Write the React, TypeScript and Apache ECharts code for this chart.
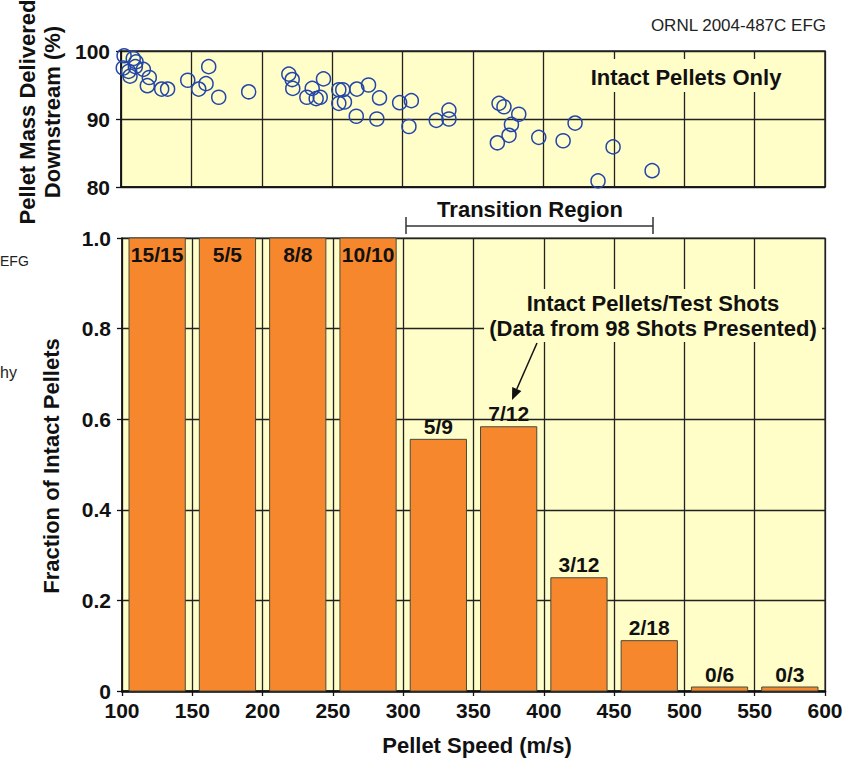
import React, { useEffect, useRef } from "react";
import * as echarts from "echarts";

// ---- Data ----
const speedTicks = [100, 150, 200, 250, 300, 350, 400, 450, 500, 550, 600];
const binCenters = [125, 175, 225, 275, 325, 375, 425, 475, 525, 575];
const intactCounts = [15, 5, 8, 10, 5, 7, 3, 2, 0, 0];
const shotCounts = [15, 5, 8, 10, 9, 12, 12, 18, 6, 3];
const fractionTicks = [0, 0.2, 0.4, 0.6, 0.8, 1.0];
const massTicks = [80, 90, 100];

const scatterSpeed = [
  102.2, 101.6, 105.4, 106.4, 108.7, 110.7, 110.2, 115.9, 120.1, 118.7, 128.9, 133.1,
  147.4, 155.2, 160.4, 162.3, 169.4, 190.7,
  219.2, 221.6, 222.0, 232.0, 235.8, 238.6, 241.5, 243.8, 254.7, 257.5, 254.7, 258.7,
  267.5, 275.8, 267.1, 283.6, 281.7, 297.9, 306.2, 304.5, 323.9, 332.9, 332.9,
  368.5, 372.0, 382.5, 377.3, 375.6, 367.3, 396.7, 414.0, 422.5, 449.5, 438.8, 477.2,
];
const scatterMass = [
  99.3, 97.5, 97.0, 96.3, 98.9, 98.4, 97.7, 97.3, 96.1, 94.9, 94.4, 94.4,
  95.7, 94.4, 95.2, 97.7, 93.2, 94.0,
  96.6, 95.8, 94.5, 93.2, 94.5, 93.0, 93.2, 95.9, 94.3, 94.3, 92.3, 92.5,
  94.4, 95.0, 90.4, 93.1, 90.0, 92.4, 92.7, 88.9, 89.8, 91.3, 90.0,
  92.3, 91.8, 90.7, 89.2, 87.6, 86.5, 87.3, 86.8, 89.4, 85.9, 80.9, 82.4,
];

const FONT = "'Liberation Sans', Arial, Helvetica, sans-serif";
const BG = "#FFFDC8";
const BAR = "#F7872C";
const GRIDLINE = "#222";

export default function App() {
  const ref = useRef<HTMLDivElement>(null);
  useEffect(() => {
    if (!ref.current) return;
    const chart = echarts.init(ref.current, null, { renderer: "svg" });
    const barData = binCenters.map((c, i) => [c, intactCounts[i] / shotCounts[i], i]);
    const scatterData = scatterSpeed.map((s, i) => [s, scatterMass[i]]);
    const tickFont = { fontFamily: FONT, fontWeight: "bold" as const, fontSize: 21, color: "#111" };
    const T = `bold 22px ${FONT}`;

    const option: any = {
      animation: false,
      backgroundColor: "#fff",
      grid: [
        { left: 121, right: 29, top: 51, height: 136, show: true, backgroundColor: BG, borderColor: "#222", borderWidth: 1.5 },
        { left: 122, right: 29, top: 238, bottom: 67, show: true, backgroundColor: BG, borderColor: "#333", borderWidth: 1.2 },
      ],
      xAxis: [
        {
          gridIndex: 0, type: "value", min: speedTicks[0], max: speedTicks[speedTicks.length - 1], interval: 50,
          axisLabel: { show: false }, axisTick: { show: false },
          axisLine: { show: true, lineStyle: { color: "#111", width: 1.5 } },
          splitLine: { show: true, lineStyle: { color: GRIDLINE, width: 1.3 } },
        },
        {
          gridIndex: 1, type: "value", min: speedTicks[0], max: speedTicks[speedTicks.length - 1], interval: 50,
          axisLabel: { ...tickFont, margin: 9 },
          axisTick: { show: true, length: 5, lineStyle: { color: "#111", width: 1.3 } },
          axisLine: { show: true, lineStyle: { color: "#111", width: 2.5 } },
          splitLine: { show: true, lineStyle: { color: GRIDLINE, width: 1.3 } },
        },
      ],
      yAxis: [
        {
          gridIndex: 0, type: "value", min: massTicks[0], max: massTicks[massTicks.length - 1], interval: 10,
          axisLabel: { ...tickFont, margin: 11 },
          axisTick: { show: true, length: 5, lineStyle: { color: "#111", width: 1.3 } },
          axisLine: { show: true, lineStyle: { color: "#111", width: 1.5 } },
          splitLine: { show: true, lineStyle: { color: GRIDLINE, width: 1.3 } },
        },
        {
          gridIndex: 1, type: "value", min: fractionTicks[0], max: fractionTicks[fractionTicks.length - 1], interval: 0.2,
          axisLabel: { ...tickFont, margin: 11, formatter: (v: number) => (v === 0 ? "0" : v.toFixed(1)) },
          axisTick: { show: true, length: 5, lineStyle: { color: "#111", width: 1.3 } },
          axisLine: { show: true, lineStyle: { color: "#111", width: 1.5 } },
          splitLine: { show: true, lineStyle: { color: GRIDLINE, width: 1.3 } },
        },
      ],
      series: [
        {
          type: "scatter", xAxisIndex: 0, yAxisIndex: 0, data: scatterData,
          symbol: "circle", symbolSize: 14, z: 5,
          itemStyle: { color: "rgba(0,0,0,0)", borderColor: "#2346A8", borderWidth: 1.5, opacity: 1 },
        },
        {
          type: "custom", xAxisIndex: 1, yAxisIndex: 1, data: barData, z: 3,
          encode: { x: 0, y: 1 },
          renderItem: (params: any, api: any) => {
            const x = api.value(0);
            const v = api.value(1);
            const i = params.dataIndex;
            const p0 = api.coord([x - 20, 0]);
            const p1 = api.coord([x + 20, v]);
            let h = p0[1] - p1[1];
            if (h < 4) h = 4;
            const top = p0[1] - h;
            const full = v >= 0.999;
            const label = `${intactCounts[i]}/${shotCounts[i]}`;
            return {
              type: "group",
              children: [
                {
                  type: "rect",
                  shape: { x: p0[0], y: top, width: p1[0] - p0[0], height: h },
                  style: { fill: BAR, stroke: "#4a4a3a", lineWidth: 1 },
                },
                {
                  type: "text",
                  x: (p0[0] + p1[0]) / 2,
                  y: full ? top + 16 : top - 13,
                  style: {
                    text: label, fill: "#111", font: `bold 21px ${FONT}`,
                    align: "center", verticalAlign: "middle",
                  },
                },
              ],
            };
          },
        },
      ],
      graphic: [
        { type: "text", x: 826, y: 25, style: { text: "ORNL 2004-487C EFG", fill: "#222", font: `17px ${FONT}`, align: "right", verticalAlign: "middle" } },
        { type: "text", x: 0, y: 261, style: { text: "EFG", fill: "#222", font: `14px ${FONT}`, align: "left", verticalAlign: "middle" } },
        { type: "text", x: 0, y: 372, style: { text: "hy", fill: "#222", font: `16px ${FONT}`, align: "left", verticalAlign: "middle" } },
        {
          type: "text", x: 40, y: 112, rotation: Math.PI / 2,
          style: { text: "Pellet Mass Delivered\nDownstream (%)", fill: "#111", font: T, align: "center", verticalAlign: "middle", lineHeight: 25 },
        },
        {
          type: "text", x: 51, y: 466, rotation: Math.PI / 2,
          style: { text: "Fraction of Intact Pellets", fill: "#111", font: T, align: "center", verticalAlign: "middle" },
        },
        { type: "text", x: 477, y: 745, style: { text: "Pellet Speed (m/s)", fill: "#111", font: T, align: "center", verticalAlign: "middle" } },
        { type: "text", x: 530, y: 209, style: { text: "Transition Region", fill: "#111", font: T, align: "center", verticalAlign: "middle" } },
        { type: "line", shape: { x1: 406, y1: 226, x2: 653, y2: 226 }, style: { stroke: "#333", lineWidth: 1.5 } },
        { type: "line", shape: { x1: 406, y1: 217, x2: 406, y2: 234 }, style: { stroke: "#333", lineWidth: 1.5 } },
        { type: "line", shape: { x1: 653, y1: 217, x2: 653, y2: 234 }, style: { stroke: "#333", lineWidth: 1.5 } },
        // top annotation
        { type: "rect", z: 10, shape: { x: 586, y: 59, width: 200, height: 33 }, style: { fill: BG } },
        { type: "text", z: 11, x: 686, y: 77, style: { text: "Intact Pellets Only", fill: "#111", font: T, align: "center", verticalAlign: "middle" } },
        // bottom annotation
        { type: "rect", z: 10, shape: { x: 484, y: 289, width: 338, height: 53 }, style: { fill: BG } },
        { type: "text", z: 11, x: 653, y: 303, style: { text: "Intact Pellets/Test Shots", fill: "#111", font: T, align: "center", verticalAlign: "middle" } },
        { type: "text", z: 11, x: 653, y: 328, style: { text: "(Data from 98 Shots Presented)", fill: "#111", font: T, align: "center", verticalAlign: "middle" } },
        { type: "line", z: 11, shape: { x1: 537, y1: 343, x2: 516.8, y2: 389 }, style: { stroke: "#111", lineWidth: 1.5 } },
        { type: "polygon", z: 11, shape: { points: [[512, 400], [521.4, 391], [512.2, 387]] }, style: { fill: "#111" } },
      ],
    };
    chart.setOption(option);
    return () => chart.dispose();
  }, []);
  return <div ref={ref} style={{ position: "fixed", left: 0, top: 0, width: 854, height: 758 }} />;
}
